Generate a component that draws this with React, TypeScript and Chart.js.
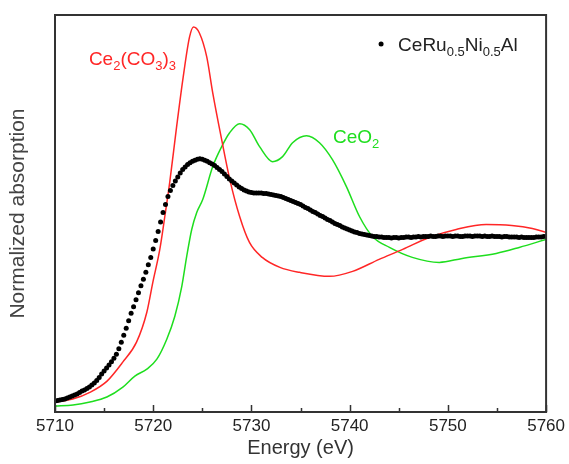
import { useEffect, useRef } from "react";
import { Chart, registerables } from "chart.js";

Chart.register(...registerables);

// ---------- data ----------
const energyMin = 5710;
const energyMax = 5760;
const xMajorTicks = [5710, 5720, 5730, 5740, 5750, 5760];
const xMinorTicks = [5715, 5725, 5735, 5745, 5755];

// CeRu0.5Ni0.5Al measured points: one row per eV, 0.25 eV step starting at 5710 eV
const sampleStartEnergy = 5710;
const sampleStepEnergy = 0.25;
const sampleAbs = [
  0.055, 0.0575, 0.06, 0.0625, // 5710
  0.065, 0.07, 0.075, 0.08, // 5711
  0.085, 0.09, 0.0975, 0.105, // 5712
  0.11, 0.1175, 0.125, 0.135, // 5713
  0.145, 0.1575, 0.1725, 0.19, // 5714
  0.205, 0.22, 0.235, 0.2525, // 5715
  0.27, 0.29, 0.3175, 0.35, // 5716
  0.385, 0.42, 0.4575, 0.495, // 5717
  0.5275, 0.5625, 0.5975, 0.6325, // 5718
  0.665, 0.7, 0.7375, 0.775, // 5719
  0.8175, 0.86, 0.905, 0.9525, // 5720
  1.0, 1.04, 1.08, 1.11, // 5721
  1.135, 1.1575, 1.1775, 1.1975, // 5722
  1.215, 1.2275, 1.24, 1.25, // 5723
  1.2575, 1.2625, 1.2675, 1.27, // 5724
  1.2675, 1.2625, 1.2575, 1.25, // 5725
  1.2425, 1.235, 1.225, 1.215, // 5726
  1.205, 1.1925, 1.18, 1.1675, // 5727
  1.1575, 1.1475, 1.1375, 1.1275, // 5728
  1.12, 1.1125, 1.1075, 1.1025, // 5729
  1.1, 1.0975, 1.0975, 1.0975, // 5730
  1.0975, 1.095, 1.095, 1.0925, // 5731
  1.09, 1.0875, 1.085, 1.0825, // 5732
  1.08, 1.075, 1.07, 1.065, // 5733
  1.06, 1.055, 1.05, 1.045, // 5734
  1.04, 1.0325, 1.025, 1.02, // 5735
  1.0125, 1.005, 1.0, 0.9925, // 5736
  0.985, 0.98, 0.9725, 0.965, // 5737
  0.96, 0.9525, 0.945, 0.94, // 5738
  0.935, 0.9275, 0.9225, 0.9175, // 5739
  0.9125, 0.9075, 0.9025, 0.9, // 5740
  0.895, 0.8925, 0.89, 0.8875, // 5741
  0.885, 0.8825, 0.88, 0.88, // 5742
  0.8775, 0.8775, 0.875, 0.875, // 5743
  0.875, 0.8725, 0.875, 0.875, // 5744
  0.8725, 0.875, 0.875, 0.8775, // 5745
  0.8775, 0.875, 0.8775, 0.8775, // 5746
  0.88, 0.8775, 0.88, 0.88, // 5747
  0.88, 0.8825, 0.88, 0.88, // 5748
  0.8825, 0.8825, 0.88, 0.8825, // 5749
  0.8825, 0.8825, 0.88, 0.8825, // 5750
  0.8825, 0.88, 0.88, 0.8825, // 5751
  0.8825, 0.8825, 0.88, 0.8825, // 5752
  0.8825, 0.8825, 0.88, 0.8825, // 5753
  0.88, 0.88, 0.8825, 0.88, // 5754
  0.88, 0.88, 0.8775, 0.88, // 5755
  0.88, 0.8775, 0.8775, 0.8775, // 5756
  0.8775, 0.875, 0.8775, 0.875, // 5757
  0.875, 0.875, 0.875, 0.875, // 5758
  0.8775, 0.8775, 0.8775, 0.88, // 5759
  0.88, // 5760
];

// Ce2(CO3)3 reference spectrum
const carbonateEnergy = [
  5710.0, 5711.8, 5713.6, 5715.3, 5716.9, 5718.3, 5719.35, 5719.96, 5720.67, 5721.18,
  5721.69, 5722.37, 5723.04, 5723.7, 5724.1, 5724.7, 5725.45, 5726.06, 5726.97, 5727.8,
  5728.8, 5729.8, 5731.1, 5732.9, 5734.9, 5737.95, 5740.3, 5743.0, 5745.4, 5748.1,
  5750.85, 5753.9, 5756.5, 5758.6, 5760.0,
];
const carbonateAbs = [
  0.05, 0.065, 0.1, 0.155, 0.25, 0.35, 0.5, 0.65, 0.815, 0.98,
  1.155, 1.425, 1.675, 1.88, 1.93, 1.9, 1.78, 1.6, 1.365, 1.165,
  0.98, 0.85, 0.775, 0.725, 0.7, 0.68, 0.705, 0.765, 0.815, 0.875,
  0.915, 0.94, 0.935, 0.92, 0.9,
];

// CeO2 reference spectrum
const oxideEnergy = [
  5710.0, 5711.83, 5713.56, 5715.28, 5716.91, 5718.13, 5719.35, 5720.37, 5721.38, 5722.2,
  5722.91, 5723.41, 5723.92, 5724.43, 5725.04, 5726.06, 5726.97, 5727.78, 5728.8, 5729.82,
  5730.83, 5732.15, 5733.17, 5734.19, 5735.61, 5736.93, 5738.25, 5739.67, 5741.0, 5742.32,
  5744.05, 5746.38, 5749.13, 5751.46, 5754.92, 5757.26, 5760.0,
];
const oxideAbs = [
  0.03, 0.035, 0.05, 0.075, 0.125, 0.18, 0.215, 0.265, 0.365, 0.48,
  0.63, 0.78, 0.915, 1.0, 1.065, 1.23, 1.33, 1.4, 1.445, 1.415,
  1.33, 1.255, 1.28, 1.35, 1.385, 1.35, 1.265, 1.13, 0.98, 0.88,
  0.825, 0.775, 0.75, 0.77, 0.795, 0.825, 0.865,
];

// labels: [text, isSubscript]
const sampleLabel: [string, boolean][] = [["CeRu", false], ["0.5", true], ["Ni", false], ["0.5", true], ["Al", false]];
const carbonateLabel: [string, boolean][] = [["Ce", false], ["2", true], ["(CO", false], ["3", true], [")", false], ["3", true]];
const oxideLabel: [string, boolean][] = [["CeO", false], ["2", true]];
const xTitle = "Energy (eV)";
const yTitle = "Normalized absorption";

// ---------- styling ----------
const RED = "rgb(255,38,38)";
const GREEN = "rgb(30,222,30)";
const FONT = "'Liberation Sans', Arial, Helvetica, sans-serif";

function drawRich(ctx: CanvasRenderingContext2D, parts: [string, boolean][], x0: number, y0: number, color: string) {
  let x = x0;
  ctx.fillStyle = color;
  ctx.textBaseline = "alphabetic";
  ctx.textAlign = "left";
  for (const [t, sub] of parts) {
    ctx.font = sub ? `13px ${FONT}` : `19px ${FONT}`;
    ctx.fillText(t, x, sub ? y0 + 5 : y0);
    x += ctx.measureText(t).width;
  }
  return x;
}

const decorPlugin = {
  id: "decor",
  afterDatasetsDraw(chart: any) {
    const { ctx, chartArea: a, scales } = chart;
    const xs = scales.x;
    const ys = scales.y;
    ctx.save();
    // frame
    ctx.strokeStyle = "#333";
    ctx.lineWidth = 2;
    ctx.strokeRect(a.left, a.top, a.right - a.left, a.bottom - a.top);
    // inward ticks on bottom axis
    ctx.lineWidth = 1.5;
    ctx.beginPath();
    for (const t of xMajorTicks) {
      const px = Math.round(xs.getPixelForValue(t)) + 0.5;
      ctx.moveTo(px, a.bottom);
      ctx.lineTo(px, a.bottom - 7);
    }
    for (const t of xMinorTicks) {
      const px = Math.round(xs.getPixelForValue(t)) + 0.5;
      ctx.moveTo(px, a.bottom);
      ctx.lineTo(px, a.bottom - 4);
    }
    ctx.stroke();

    // curve annotations placed in data coordinates
    drawRich(ctx, carbonateLabel, xs.getPixelForValue(5713.45), ys.getPixelForValue(1.74), RED);
    drawRich(ctx, oxideLabel, xs.getPixelForValue(5738.3), ys.getPixelForValue(1.35), GREEN);

    // legend
    const lx = a.right - 165;
    const ly = a.top + 29;
    ctx.fillStyle = "#000";
    ctx.beginPath();
    ctx.arc(lx, ly, 2.5, 0, Math.PI * 2);
    ctx.fill();
    drawRich(ctx, sampleLabel, lx + 17, ly + 7, "#222");
    ctx.restore();
  },
};

export default function App() {
  const canvasRef = useRef<HTMLCanvasElement | null>(null);

  useEffect(() => {
    const canvas = canvasRef.current;
    if (!canvas) return;
    const sampleData = sampleAbs.map((v, i) => ({ x: sampleStartEnergy + i * sampleStepEnergy, y: v }));
    const carbonateData = carbonateEnergy.map((e, i) => ({ x: e, y: carbonateAbs[i] }));
    const oxideData = oxideEnergy.map((e, i) => ({ x: e, y: oxideAbs[i] }));

    const chart = new Chart(canvas, {
      type: "line",
      data: {
        datasets: [
          {
            label: "CeRu0.5Ni0.5Al",
            data: sampleData,
            showLine: false,
            pointRadius: 2.5,
            pointBorderWidth: 0,
            pointBackgroundColor: "#000",
            pointBorderColor: "#000",
          },
          {
            label: "Ce2(CO3)3",
            data: carbonateData,
            borderColor: RED,
            borderWidth: 1.5,
            pointRadius: 0,
            cubicInterpolationMode: "monotone",
          },
          {
            label: "CeO2",
            data: oxideData,
            borderColor: GREEN,
            borderWidth: 1.5,
            pointRadius: 0,
            cubicInterpolationMode: "monotone",
          },
        ],
      },
      options: {
        animation: false,
        responsive: true,
        maintainAspectRatio: false,
        layout: { padding: { top: 15, right: 22, bottom: 0, left: 0 } },
        plugins: { legend: { display: false }, tooltip: { enabled: false } },
        scales: {
          x: {
            type: "linear",
            min: energyMin,
            max: energyMax,
            grid: { display: false, drawTicks: false },
            border: { display: false },
            ticks: {
              stepSize: 10,
              padding: 4,
              color: "#222",
              font: { family: FONT, size: 17 },
              callback: (v: any) => String(v),
            },
            title: {
              display: true,
              text: xTitle,
              color: "#333",
              font: { family: FONT, size: 20 },
              padding: { top: 0, bottom: 4 },
            },
            afterFit: (s: any) => {
              s.height = 52;
            },
          },
          y: {
            min: 0,
            max: 1.99,
            grid: { display: false, drawTicks: false },
            border: { display: false },
            ticks: { display: false },
            title: {
              display: true,
              text: yTitle,
              color: "#444",
              font: { family: FONT, size: 21 },
              padding: { top: 6, bottom: 0 },
            },
            afterFit: (s: any) => {
              s.width = 55;
            },
          },
        },
      },
      plugins: [decorPlugin],
    });
    return () => chart.destroy();
  }, []);

  return (
    <div style={{ position: "absolute", left: 0, top: 0, width: 569, height: 464 }}>
      <canvas ref={canvasRef} />
    </div>
  );
}
